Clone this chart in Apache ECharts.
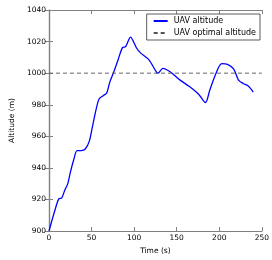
<!DOCTYPE html>
<html>
<head>
<meta charset="utf-8">
<script src="https://cdn.jsdelivr.net/npm/echarts@6/dist/echarts.min.js"></script>
<style>
html, body { margin: 0; padding: 0; background: #fff; }
#chart { width: 272px; height: 260px; }
</style>
</head>
<body>
<div id="chart"></div>
<script>
// time (s) and altitude (m)
var times = [0, 6.7, 11.5, 15, 18.5, 22, 25, 29, 33, 38, 42.6, 47.4, 51, 58.5, 64, 67.8, 71.5, 76, 80.7, 86.3, 90, 95.9, 98.5, 103, 107.8, 117, 126.3, 128, 133.7, 143, 154, 165, 176, 183.7, 189, 196.7, 203, 209.6, 217, 222.6, 228, 233.7, 240];
var altitude = [900, 912.7, 920.4, 921, 925.9, 929.9, 937, 945, 951, 951, 952, 957, 966, 983.4, 985.9, 987.5, 994.5, 1000.6, 1007.7, 1016.2, 1016.8, 1022.8, 1020.8, 1015.8, 1012.7, 1008.7, 1000.6, 1000, 1003, 1000.6, 995.6, 991.5, 986.5, 981.4, 989.5, 1000.6, 1006, 1005.6, 1002.6, 995.6, 993.5, 992, 988];
var optimalAltitude = 1000;
var timeRange = [0, 250];
var seriesNames = ['UAV altitude', 'UAV optimal altitude'];

var fontFamily = 'DejaVu Sans';
var frameColor = '#808080';

var mainData = times.map(function (t, i) { return [t, altitude[i]]; });
var optimalData = timeRange.map(function (t) { return [t, optimalAltitude]; });

var myChart = echarts.init(document.getElementById('chart'));

var frameAxis = {
    axisLine: {show: true, lineStyle: {color: frameColor, width: 1.2}},
    axisTick: {show: true, inside: true, length: 4, lineStyle: {color: frameColor}},
    splitLine: {show: false}
};
var plain = function (v) { return String(v); };

option = {
    animation: false,
    grid: {left: 39, right: 8, top: 10, bottom: 19},
    legend: {
        right: 12,
        top: 14,
        orient: 'vertical',
        itemGap: 4,
        itemWidth: 14,
        itemHeight: 8,
        padding: [3, 4, 3, 6],
        borderColor: '#333',
        borderWidth: 0.8,
        itemStyle: {opacity: 0},
        textStyle: {fontFamily: fontFamily, fontSize: 8, color: '#000', padding: [0, 0, 0, 1]},
        data: seriesNames
    },
    xAxis: [
        Object.assign({
            type: 'value', min: 0, max: 250, interval: 50,
            name: 'Time (s)', nameLocation: 'middle', nameGap: 12,
            nameTextStyle: {fontFamily: fontFamily, fontSize: 7.5, color: '#000'},
            axisLabel: {fontFamily: fontFamily, fontSize: 7.5, color: '#000', margin: 3, formatter: plain}
        }, frameAxis),
        Object.assign({
            type: 'value', min: 0, max: 250, interval: 50, position: 'top',
            axisLabel: {show: false}
        }, frameAxis)
    ],
    yAxis: [
        Object.assign({
            type: 'value', min: 900, max: 1040, interval: 20,
            name: 'Altitude (m)', nameLocation: 'middle', nameGap: 25,
            nameTextStyle: {fontFamily: fontFamily, fontSize: 7.5, color: '#000'},
            axisLabel: {fontFamily: fontFamily, fontSize: 7.5, color: '#000', margin: 3, formatter: plain}
        }, frameAxis),
        Object.assign({
            type: 'value', min: 900, max: 1040, interval: 20, position: 'right',
            axisLabel: {show: false}
        }, frameAxis)
    ],
    series: [
        {
            name: seriesNames[0],
            type: 'line',
            data: mainData,
            smooth: 0.3,
            symbol: 'none',
            color: '#0000ff',
            lineStyle: {color: '#0000ff', width: 1.3}
        },
        {
            name: seriesNames[1],
            type: 'line',
            data: optimalData,
            symbol: 'none',
            color: '#555',
            lineStyle: {color: '#555', width: 0.9, type: [4, 3]}
        }
    ]
};
myChart.setOption(option);
</script>
</body>
</html>
